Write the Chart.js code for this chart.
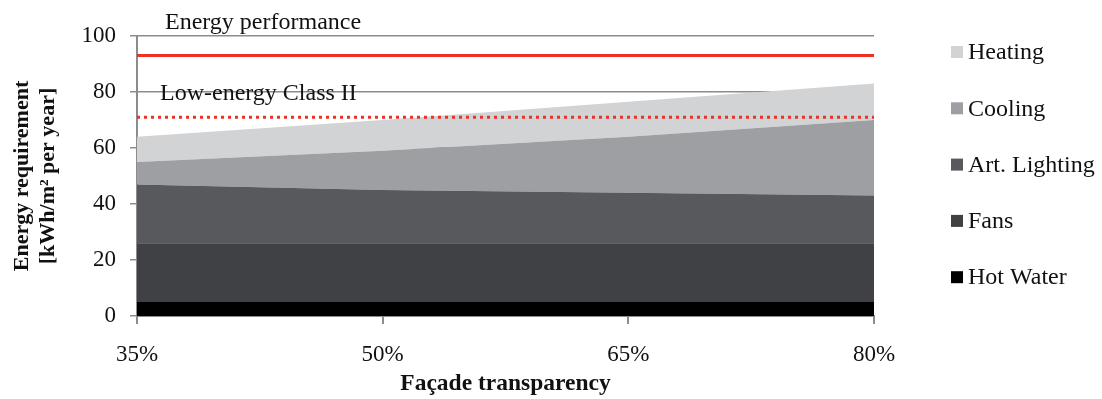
<!DOCTYPE html>
<html>
<head>
<meta charset="utf-8">
<script src="https://cdn.jsdelivr.net/npm/chart.js@4"></script>
<style>
html, body { margin: 0; padding: 0; background: #fff; }
#wrap { width: 1102px; height: 399px; position: relative; }
</style>
</head>
<body>
<div id="wrap"><canvas id="energyChart"></canvas></div>
<script>
/* data */
const transparency = ['35%', '50%', '65%', '80%'];
const hotWater = [5, 5, 5, 5];
const fans = [21, 21, 21, 21];
const artLighting = [21, 19, 18, 17];
const cooling = [8, 14, 20, 27];
const heating = [9, 11, 12.5, 13];
const energyPerformance = [93, 93, 93, 93];
const lowEnergyClassII = [71, 71, 71, 71];
const yTicks = [0, 20, 40, 60, 80, 100];

const SERIF = "'Liberation Serif', 'Times New Roman', serif";
const GRID = '#8c8c8c';

function area(label, data, color, fill) {
  return {
    label, data, fill,
    backgroundColor: color, borderColor: color,
    borderWidth: 0, pointRadius: 0, tension: 0,
    stack: 'energy', order: 1
  };
}

/* text labels over the reference lines + right-hand legend */
const extras = {
  id: 'extras',
  afterDraw(chart) {
    const c = chart.ctx;
    c.save();
    c.fillStyle = '#111';
    c.font = '24px ' + SERIF;
    c.textBaseline = 'alphabetic';
    c.fillText('Energy performance', 165, 29);
    c.fillText('Low-energy Class II', 160, 100);

    const items = chart.data.datasets.filter(d => d.stack === 'energy').slice().reverse();
    items.forEach((d, i) => {
      const cy = 52 + i * 56.3;
      c.fillStyle = d.backgroundColor;
      c.fillRect(951, cy - 6, 12, 12);
      c.fillStyle = '#111';
      c.textBaseline = 'middle';
      c.fillText(d.label, 968, cy + 1);
    });
    c.restore();
  }
};

new Chart(document.getElementById('energyChart'), {
  type: 'line',
  data: {
    labels: transparency,
    datasets: [
      area('Hot Water', hotWater, '#000000', 'origin'),
      area('Fans', fans, '#404145', '-1'),
      area('Art. Lighting', artLighting, '#58595d', '-1'),
      area('Cooling', cooling, '#9d9fa3', '-1'),
      area('Heating', heating, '#d2d3d5', '-1'),
      {
        label: 'Energy performance', data: energyPerformance, stack: 'ref1',
        borderColor: '#ee3124', borderWidth: 3, pointRadius: 0, fill: false, order: -1
      },
      {
        label: 'Low-energy Class II', data: lowEnergyClassII, stack: 'ref2',
        borderColor: '#ee3124', borderWidth: 3, borderDash: [3, 4], pointRadius: 0, fill: false, order: -1
      }
    ]
  },
  options: {
    responsive: true,
    maintainAspectRatio: false,
    animation: false,
    layout: { padding: { left: 0, right: 228, top: 36, bottom: 0 } },
    plugins: { legend: { display: false }, tooltip: { enabled: false } },
    scales: {
      x: {
        offset: false,
        grid: { drawOnChartArea: false, drawTicks: true, tickLength: 8, color: GRID, lineWidth: 2 },
        border: { color: GRID, width: 2 },
        ticks: { color: '#111', font: { family: SERIF, size: 23 }, padding: 17, maxRotation: 0 },
        title: {
          display: true, text: 'Façade transparency', color: '#111',
          font: { family: SERIF, size: 23.5, weight: 'bold' }, padding: { top: 0, bottom: 1 }
        },
        afterFit: s => { s.height = 83; }
      },
      y: {
        stacked: true,
        min: 0, max: 100,
        afterBuildTicks: s => { s.ticks = yTicks.map(v => ({ value: v })); },
        grid: { color: GRID, lineWidth: 1.5, tickLength: 7 },
        border: { color: GRID, width: 2 },
        ticks: { color: '#111', font: { family: SERIF, size: 23 }, padding: 14 },
        title: {
          display: true, text: ['Energy requirement', '[kWh/m² per year]'], color: '#111',
          font: { family: SERIF, size: 22, weight: 'bold' }, padding: { top: 9, bottom: 0 }
        },
        afterFit: s => { s.width = 137; }
      }
    }
  },
  plugins: [extras]
});
</script>
</body>
</html>
